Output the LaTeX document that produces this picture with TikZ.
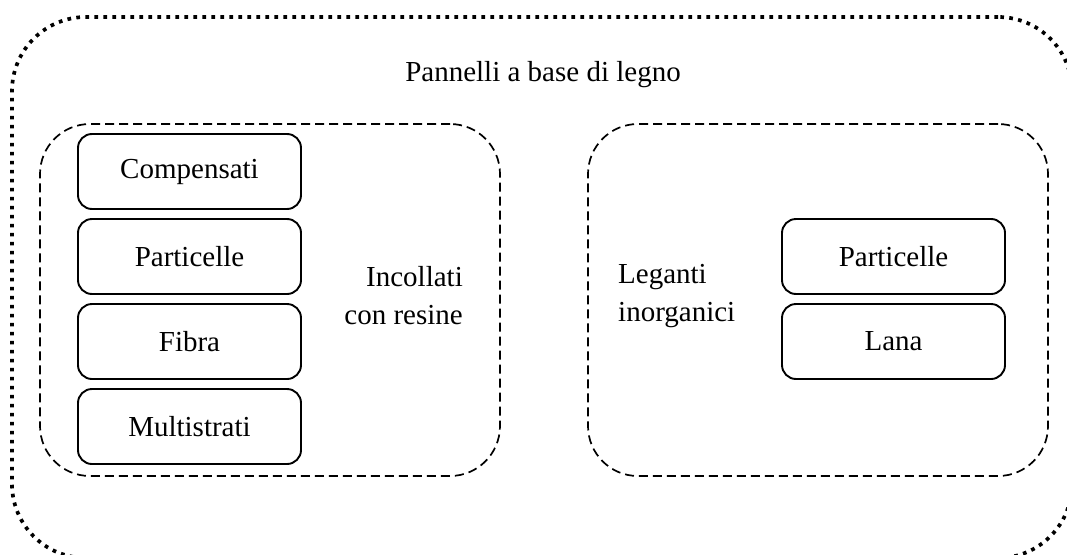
\documentclass[tikz,border=0pt]{standalone}
\usepackage{fontspec}
\setmainfont{Liberation Serif}
\newcommand\diagfont{\fontsize{29}{38}\selectfont}
\begin{document}
\begin{tikzpicture}[x=1pt,y=-1pt,
  outerbox/.style={draw, line width=3.7pt, dash pattern=on 3.7pt off 5.3pt,
    rounded corners=74pt, inner sep=0pt},
  groupbox/.style={draw, line width=1.7pt, dash pattern=on 9pt off 5pt,
    rounded corners=50pt, minimum width=460pt, minimum height=352pt, inner sep=0pt},
  item/.style={draw, line width=1.9pt, rounded corners=14pt, minimum width=223pt,
    minimum height=75pt, inner sep=0pt, font=\diagfont},
  label/.style={font=\diagfont, inner sep=0pt}
]
\useasboundingbox (0,0) rectangle (1067,554);
\clip (0,0) rectangle (1067,554);

% outer frame (its right and bottom sides fall just outside the page)
\node[outerbox, minimum width=1060pt, minimum height=541pt] (all) at (542,287.5) {};
\node[label] (title) at (543,75) {Pannelli a base di legno};

% resin-bonded panels
\node[groupbox] (resin) at (270,300) {};
\node[item] (comp) at (189.5,171.5) {Compensati};
\node[item] (part1) at (189.5,256.5) {Particelle};
\node[item] (fibra) at (189.5,341.5) {Fibra};
\node[item] (multi) at (189.5,426.5) {Multistrati};
\node[label, align=right, anchor=east] (resinlbl) at (463,296) {Incollati\\con resine};

% inorganic-bonded panels
\node[groupbox] (inorg) at (818,300) {};
\node[label, align=left, anchor=west] (inorglbl) at (618,296) {Leganti\\inorganici};
\node[item] (part2) at (893.5,256.5) {Particelle};
\node[item] (lana) at (893.5,341.5) {Lana};
\end{tikzpicture}
\end{document}
